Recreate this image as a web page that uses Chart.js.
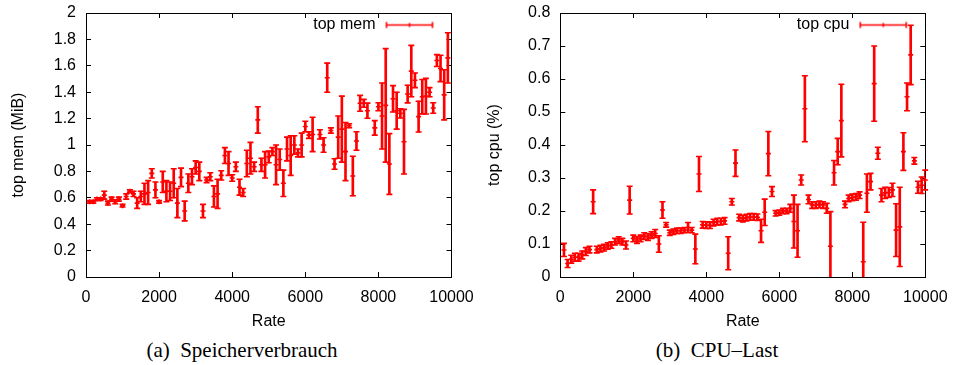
<!DOCTYPE html>
<html><head><meta charset="utf-8">
<script src="https://cdn.jsdelivr.net/npm/chart.js@4.4.1/dist/chart.umd.min.js"></script>
<style>
html,body{margin:0;padding:0;background:#fff;}
#wrap{position:relative;width:955px;height:365px;overflow:hidden;background:#fff;}
#c1{position:absolute;left:0;top:0;}
#c2{position:absolute;left:477px;top:0;}
.cap{position:absolute;top:337px;font-family:'Liberation Serif','Times New Roman',serif;font-size:21px;line-height:26px;white-space:pre;color:#000;transform:translateX(-50%);}
</style></head>
<body><div id="wrap">
<canvas id="c1" width="477" height="335"></canvas>
<canvas id="c2" width="478" height="335"></canvas>
<div class="cap" style="left:242px">(a)  Speicherverbrauch</div>
<div class="cap" style="left:717px">(b)  CPU–Last</div>
</div>
<script>
// ---------- data: memory (left) ----------
const memRate = [100,200,300,400,500,600,700,800,900,1000,
  1100,1200,1300,1400,1500,1600,1700,1800,1900,2000,
  2100,2200,2300,2400,2500,2600,2700,2800,2900,3000,
  3100,3200,3300,3400,3500,3600,3700,3800,3900,4000,
  4100,4200,4300,4400,4500,4600,4700,4800,4900,5000,
  5100,5200,5300,5400,5500,5600,5700,5800,5900,6000,
  6100,6200,
  6400,6500,6600,6700,6800,6900,7000,7100,7200,7300,7400,7500,7600,7700,
  7900,8000,8100,8200,8300,8400,8500,8600,8700,8800,8900,9000,9100,9200,9300,9400,9500,9600,9700,9800,9900];
const memMean = [0.57,0.57,0.59,0.59,0.62,0.56,0.59,0.57,0.59,0.54,
  0.61,0.65,0.63,0.56,0.61,0.63,0.64,0.785,0.66,0.57,
  0.72,0.65,0.65,0.71,0.56,0.755,0.50,0.71,0.76,0.83,
  0.80,0.50,0.735,0.76,0.61,0.63,0.77,0.92,0.86,0.75,
  0.835,0.68,0.64,0.86,0.90,0.835,1.19,0.85,0.85,0.91,
  0.95,0.85,0.89,0.71,0.97,0.92,1.0,0.94,1.0,1.14,
  1.075,1.08,
  1.08,1.0,1.51,1.11,0.856,1.06,1.12,0.95,1.146,0.765,1.03,1.316,1.316,1.26,
  1.13,1.29,1.22,1.30,0.856,1.35,1.26,1.24,1.025,1.386,1.56,1.49,1.215,1.366,1.37,1.40,1.28,1.64,1.58,1.38,1.66];
const memErr = [0.01,0.01,0.01,0.01,0.03,0.015,0.015,0.015,0.015,0.01,
  0.02,0.01,0.02,0.04,0.04,0.08,0.09,0.035,0.06,0.01,
  0.08,0.08,0.07,0.11,0.11,0.07,0.075,0.07,0.06,0.05,
  0.07,0.05,0.02,0.03,0.08,0.11,0.035,0.06,0.09,0.025,
  0.035,0.06,0.03,0.1,0.12,0.035,0.1,0.05,0.1,0.045,
  0.03,0.15,0.08,0.1,0.09,0.15,0.07,0.03,0.09,0.04,
  0.025,0.13,
  0.035,0.055,0.11,0.02,0.04,0.16,0.25,0.22,0.015,0.15,0.07,0.06,0.03,0.057,
  0.055,0.03,0.25,0.43,0.23,0.1,0.14,0.035,0.245,0.067,0.195,0.055,0.117,0.13,0.135,0.035,0.04,0.045,0.1,0.19,0.19];

// ---------- data: cpu (right) ----------
const cpuRate = [100,200,300,400,500,600,700,800,900,1000,
  1100,1200,1300,1400,1500,1600,1700,1800,1900,2000,
  2100,2200,2300,2400,2500,2600,2700,2800,2900,3000,
  3100,3200,3300,3400,3500,3600,3700,3800,3900,4000,
  4100,4200,4300,4400,4500,4600,4700,4800,4900,5000,
  5100,5200,5300,5400,5500,5600,5700,5800,5900,6000,
  6100,6200,6300,6400,6500,6600,6700,6800,6900,7000,
  7100,7200,7300,7400,7500,7600,7700,7800,7900,8000,
  8100,8200,8300,8400,8500,8600,8700,8800,8900,9000,
  9100,9200,9300,9400,9500,9600,9700,9800,9900,10000];
const cpuMean = [0.082,0.041,0.054,0.06,0.06,0.067,0.077,0.083,0.228,0.083,
  0.086,0.089,0.094,0.097,0.107,0.112,0.107,0.097,0.233,0.117,
  0.112,0.117,0.124,0.121,0.127,0.132,0.10,0.203,0.158,0.134,
  0.137,0.14,0.14,0.142,0.15,0.142,0.085,0.312,0.158,0.157,
  0.157,0.165,0.168,0.168,0.17,0.072,0.228,0.345,0.18,0.177,
  0.18,0.182,0.182,0.181,0.14,0.196,0.374,0.259,0.193,0.195,
  0.2,0.2,0.208,0.168,0.14,0.294,0.51,0.235,0.218,0.218,
  0.22,0.218,0.208,0.093,0.316,0.38,0.474,0.22,0.238,0.241,
  0.243,0.248,0.046,0.254,0.289,0.586,0.375,0.248,0.255,0.256,
  0.264,0.142,0.152,0.38,0.546,0.673,0.352,0.272,0.278,0.294];
const cpuErr = [0.02,0.012,0.012,0.012,0.012,0.012,0.012,0.01,0.036,0.01,
  0.01,0.01,0.01,0.01,0.01,0.01,0.01,0.012,0.042,0.01,
  0.01,0.01,0.01,0.01,0.01,0.012,0.025,0.025,0.007,0.008,
  0.008,0.008,0.008,0.008,0.015,0.008,0.045,0.053,0.01,0.01,
  0.01,0.01,0.01,0.01,0.01,0.05,0.01,0.04,0.01,0.01,
  0.01,0.01,0.01,0.01,0.035,0.04,0.067,0.015,0.008,0.008,
  0.008,0.008,0.012,0.08,0.08,0.015,0.1,0.013,0.01,0.01,
  0.01,0.01,0.015,0.105,0.037,0.04,0.11,0.01,0.01,0.01,
  0.01,0.01,0.12,0.058,0.025,0.114,0.018,0.02,0.017,0.015,
  0.02,0.08,0.12,0.057,0.042,0.09,0.01,0.018,0.025,0.03];

const xTickStep = 2000;
const memYTickStep = 0.2;
const cpuYTickStep = 0.1;

const RED = 'rgb(255,0,0)';
Chart.defaults.font.family = "'Liberation Sans', Arial, Helvetica, sans-serif";
Chart.defaults.font.size = 16;
Chart.defaults.color = '#000';

// legend sample: an error bar drawn horizontally (style only)
function makeLegendSymbol() {
  const c = document.createElement('canvas');
  c.width = 63; c.height = 9;
  const g = c.getContext('2d');
  g.strokeStyle = RED; g.lineWidth = 1.6;
  g.beginPath();
  g.moveTo(3, 4.5); g.lineTo(49, 4.5);
  g.moveTo(3, 1.5); g.lineTo(3, 7.5);
  g.moveTo(49, 1.5); g.lineTo(49, 7.5);
  g.moveTo(26, 2.5); g.lineTo(26, 6.5);
  g.stroke();
  return c;
}
const legendSymbol = makeLegendSymbol();

// let the (inside-the-frame) legend box keep a usable drawing height after layout
const legendInside = {
  id: 'legendInside',
  afterLayout(chart) {
    const lg = chart.legend;
    if (lg) { lg.height = 30; lg.bottom = lg.top + 30; }
  }
};

const fmt = v => String(Number(v.toFixed(2)));

function errorChart(el, p) {
  const bars = p.rate.map((r, i) => ({x: r, y: [p.mean[i] - p.err[i], p.mean[i] + p.err[i]]}));
  const lo = p.rate.map((r, i) => ({x: r, y: p.mean[i] - p.err[i]}));
  const hi = p.rate.map((r, i) => ({x: r, y: p.mean[i] + p.err[i]}));
  const mid = p.rate.map((r, i) => ({x: r, y: p.mean[i]}));
  const gridIn = {drawOnChartArea: false, tickLength: -5, color: '#000', lineWidth: 1, offset: false};
  const border = {display: true, color: '#000', width: 1};
  const pointDs = (label, data, style, r) => ({label, data, pointStyle: style, pointRadius: r, pointHoverRadius: r,
    pointBorderColor: RED, pointBackgroundColor: RED, pointBorderWidth: 1.6, showLine: false, clip: 3});
  const noPadX = s => { s.paddingLeft = 0; s.paddingRight = 0; };
  const noPadY = s => { s.paddingTop = 0; s.paddingBottom = 0; };
  return new Chart(el, {
    type: 'scatter',
    data: {datasets: [
      {type: 'bar', label: p.label, data: bars, backgroundColor: RED, borderWidth: 0, barThickness: 2, clip: 0, grouped: false},
      pointDs('lo', lo, 'line', 3),
      pointDs('hi', hi, 'line', 3),
      pointDs(p.label, mid, 'cross', 2.5)
    ]},
    plugins: [legendInside],
    options: {
      responsive: false, animation: false, events: [],
      layout: {padding: {left: 0, right: p.padRight, top: 12, bottom: 0}},
      plugins: {
        tooltip: {enabled: false},
        legend: {
          display: true, position: 'top', align: 'start', rtl: true, fullSize: false, maxHeight: 1,
          labels: {
            usePointStyle: true, pointStyleWidth: 63, padding: 5, textAlign: 'center', color: '#000',
            font: {size: 16},
            generateLabels: () => [{text: p.label, pointStyle: legendSymbol, fillStyle: RED, strokeStyle: RED,
              lineWidth: 0, hidden: false, fontColor: '#000', datasetIndex: 3}]
          }
        }
      },
      scales: {
        x: {type: 'linear', position: 'bottom', min: 0, max: 10000, offset: false,
          ticks: {stepSize: xTickStep, padding: 16, maxRotation: 0, autoSkip: false, callback: v => String(v)},
          grid: gridIn, border,
          title: {display: true, text: 'Rate', padding: {top: 0, bottom: 4}},
          afterFit: s => { s.height = 58; noPadX(s); }},
        xTop: {type: 'linear', position: 'top', min: 0, max: 10000, offset: false,
          ticks: {display: false, stepSize: xTickStep}, grid: gridIn, border,
          afterFit: s => { s.height = 0; noPadX(s); }},
        y: {type: 'linear', position: 'left', min: 0, max: p.yMax,
          ticks: {stepSize: p.yStep, padding: 15, autoSkip: false, callback: fmt},
          grid: gridIn, border,
          title: {display: true, text: p.yTitle, padding: {top: p.titlePad, bottom: 0}},
          afterFit: s => { s.width = p.yWidth; noPadY(s); }},
        yRight: {type: 'linear', position: 'right', min: 0, max: p.yMax,
          ticks: {display: false, stepSize: p.yStep}, grid: gridIn, border,
          afterFit: s => { s.width = 0; noPadY(s); }}
      }
    }
  });
}

errorChart(document.getElementById('c1'), {
  rate: memRate, mean: memMean, err: memErr, label: 'top mem', yTitle: 'top mem (MiB)',
  yMax: 2, yStep: memYTickStep, yWidth: 86, padRight: 25.5, titlePad: 9
});
errorChart(document.getElementById('c2'), {
  rate: cpuRate, mean: cpuMean, err: cpuErr, label: 'top cpu', yTitle: 'top cpu (%)',
  yMax: 0.8, yStep: cpuYTickStep, yWidth: 83.3, padRight: 29.7, titlePad: 7.5
});
</script>
</body></html>
